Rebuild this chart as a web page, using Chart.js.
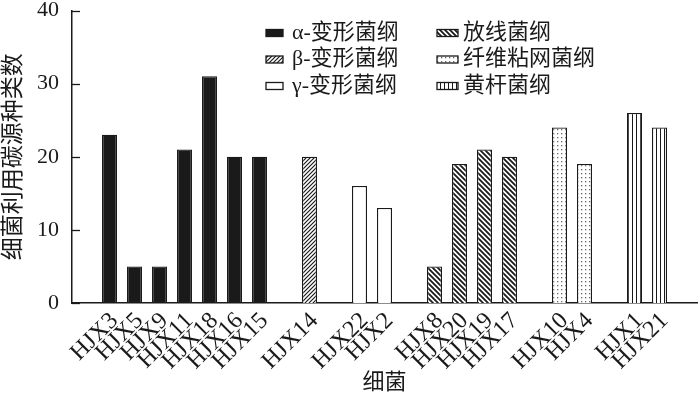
<!DOCTYPE html>
<html>
<head>
<meta charset="utf-8">
<script src="https://cdn.jsdelivr.net/npm/chart.js@4"></script>
<style>
  html,body{margin:0;padding:0;background:#fff}
  #wrap{width:700px;height:394px;position:relative}
</style>
</head>
<body>
<div id="wrap"><canvas id="c" width="700" height="394"></canvas></div>
<script>
// Data (one slot per category, '' = spacer between classes)
const categories = ['', 'HJX3','HJX5','HJX9','HJX11','HJX18','HJX16','HJX15', '', 'HJX14', '',
  'HJX22','HJX2', '', 'HJX8','HJX20','HJX19','HJX17', '', 'HJX10','HJX4', '', 'HJX1','HJX21', ''];
const counts = [null, 23,5,5,21,31,20,20, null, 20, null,
  16,13, null, 5,19,21,20, null, 24,19, null, 26,24, null];
// class index of each slot (-1 = spacer)
const classOf = [-1, 0,0,0,0,0,0,0, -1, 1, -1, 2,2, -1, 3,3,3,3, -1, 4,4, -1, 5,5, -1];
const classNames = ['α-变形菌纲','β-变形菌纲','γ-变形菌纲','放线菌纲','纤维粘网菌纲','黄杆菌纲'];
const yTicks = [0,10,20,30,40];

const FONT = '"Liberation Serif", "Noto Sans CJK SC", serif';
const INK = '#1a1a1a';

// fill patterns
function tile(w, h, draw){
  const c = document.createElement('canvas'); c.width = w; c.height = h;
  const g = c.getContext('2d');
  g.fillStyle = '#fff'; g.fillRect(0,0,w,h);
  g.strokeStyle = INK; g.fillStyle = INK;
  draw(g, w, h);
  return document.getElementById('c').getContext('2d').createPattern(c, 'repeat');
}
const fills = [
  INK,
  tile(4,4,function(g){ g.lineWidth=1.2; g.beginPath(); g.moveTo(-1,5); g.lineTo(5,-1); g.moveTo(-1,1); g.lineTo(1,-1); g.moveTo(3,5); g.lineTo(5,3); g.stroke(); }),
  '#fff',
  tile(5,5,function(g){ g.lineWidth=1.8; g.beginPath(); g.moveTo(-1,-1); g.lineTo(6,6); g.moveTo(4,-1); g.lineTo(6,1); g.moveTo(-1,4); g.lineTo(1,6); g.stroke(); }),
  tile(4,4,function(g){ g.fillStyle='#666'; g.fillRect(1,1,1.3,1.3); }),
  tile(4,4,function(g){ g.lineWidth=1; g.beginPath(); g.moveTo(0.5,0); g.lineTo(0.5,4); g.stroke(); })
];

const datasets = classNames.map(function(name, k){
  return {
    label: name,
    data: counts.map(function(v, i){ return classOf[i] === k ? v : null; }),
    backgroundColor: fills[k],
    borderColor: INK,
    borderWidth: 1.3,
    grouped: false,
    barPercentage: 0.6,
    categoryPercentage: 1.0
  };
});

const decor = {
  id: 'decor',
  afterDraw(chart){
    const ctx = chart.ctx, y = chart.scales.y;
    ctx.save();
    // inward y ticks
    ctx.strokeStyle = INK; ctx.lineWidth = 1.3;
    yTicks.forEach(function(t){
      const py = Math.round(y.getPixelForValue(t)) + 0.5;
      ctx.beginPath(); ctx.moveTo(y.right, py); ctx.lineTo(y.right + 8, py); ctx.stroke();
    });
    // x title
    ctx.fillStyle = INK; ctx.font = '22px ' + FONT;
    ctx.textAlign = 'center'; ctx.textBaseline = 'middle';
    ctx.fillText('细菌', (chart.chartArea.left + chart.chartArea.right) / 2, 383);
    // legend, 2 columns x 3 rows
    const cols = [{bx:266, bw:17, tx:292}, {bx:437, bw:21, tx:463}];
    ctx.textAlign = 'left'; ctx.font = '22px ' + FONT;
    classNames.forEach(function(name, k){
      const col = cols[Math.floor(k / 3)], cy = 33 + (k % 3) * 26.5;
      ctx.fillStyle = fills[k];
      ctx.fillRect(col.bx, cy - 3.5, col.bw, 7);
      ctx.lineWidth = 1.3; ctx.strokeStyle = INK;
      ctx.strokeRect(col.bx, cy - 3.5, col.bw, 7);
      ctx.fillStyle = INK;
      ctx.fillText(name, col.tx, cy);
    });
    ctx.restore();
  }
};

function draw(){
  new Chart(document.getElementById('c'), {
    type: 'bar',
    data: { labels: categories, datasets: datasets },
    options: {
      responsive: false,
      animation: false,
      layout: { padding: { top: 0, right: 3, left: 0, bottom: 0 } },
      plugins: { legend: { display: false }, tooltip: { enabled: false } },
      scales: {
        x: {
          grid: { display: false },
          border: { color: INK, width: 1.5 },
          ticks: { autoSkip: false, maxRotation: 45, minRotation: 45, padding: -4, labelOffset: 5, color: INK, font: { family: FONT, size: 24 } },
          afterFit: function(s){ s.height = 91; s.paddingLeft = 0; s.paddingRight = 0; }
        },
        y: {
          min: 0, max: 40,
          grid: { display: false },
          border: { color: INK, width: 1.5 },
          ticks: { stepSize: 10, padding: 5, color: INK, font: { family: FONT, size: 22 } },
          title: { display: true, text: '细菌利用碳源种类数', color: INK, font: { family: FONT, size: 23 }, padding: { top: 0, bottom: 0 } },
          afterFit: function(s){ s.width = 72; s.paddingTop = 10.5; s.paddingBottom = 0; }
        }
      }
    },
    plugins: [decor]
  });
}

Promise.all([
  document.fonts.load('20px "Liberation Serif"'),
  document.fonts.load('22px "Noto Sans CJK SC"', '细菌')
]).then(draw, draw);
</script>
</body>
</html>
